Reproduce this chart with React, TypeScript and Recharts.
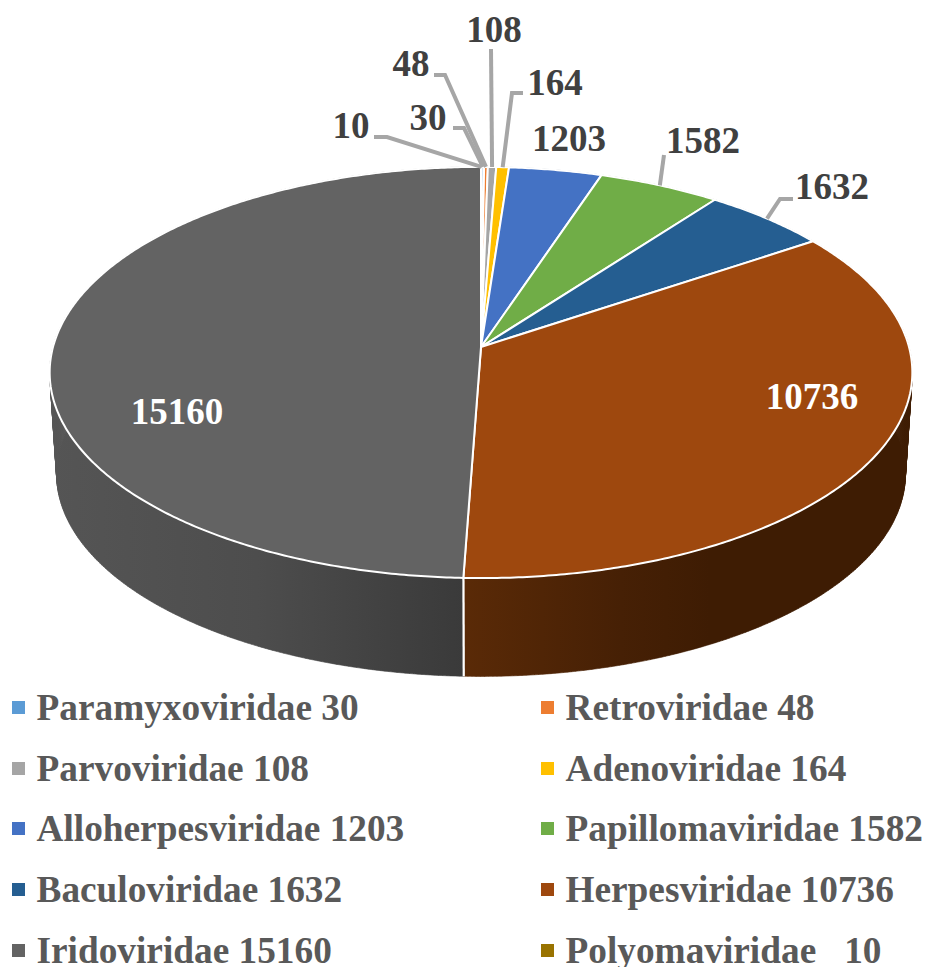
import { Legend, Pie, PieChart } from 'recharts';

const families = [
  'Polyomaviridae',
  'Paramyxoviridae',
  'Retroviridae',
  'Parvoviridae',
  'Adenoviridae',
  'Alloherpesviridae',
  'Papillomaviridae',
  'Baculoviridae',
  'Herpesviridae',
  'Iridoviridae',
];
const counts = [10, 30, 48, 108, 164, 1203, 1582, 1632, 10736, 15160];
const topColors = [
  '#997300',
  '#5b9bd5',
  '#ed7d31',
  '#a5a5a5',
  '#ffc000',
  '#4472c4',
  '#70ad47',
  '#255e91',
  '#9e480e',
  '#636363',
];
const wallColors = [
  '#4d3900',
  '#2e4e6b',
  '#773f19',
  '#535353',
  '#806000',
  '#223962',
  '#385724',
  '#132f49',
  'url(#herpesWall)',
  'url(#iridoWall)',
];
const legendOrder = [
  'Paramyxoviridae',
  'Retroviridae',
  'Parvoviridae',
  'Adenoviridae',
  'Alloherpesviridae',
  'Papillomaviridae',
  'Baculoviridae',
  'Herpesviridae',
  'Iridoviridae',
  'Polyomaviridae',
];

// label centre and the elbow of its leader line, same order as families
const labelSpots: { x: number; y: number; line?: number[][]; color?: string }[] = [
  { x: 351, y: 125, line: [[374, 137], [387, 137]] },
  { x: 428, y: 117, line: [[453, 128], [464, 128]] },
  { x: 411, y: 63, line: [[434, 75], [445, 75]] },
  { x: 494, y: 29, line: [[491, 49]] },
  { x: 555, y: 82, line: [[523, 93], [512, 93]] },
  { x: 569, y: 138 },
  { x: 703, y: 140, line: [[664, 155]] },
  { x: 832, y: 186, line: [[793, 199], [780, 199]] },
  { x: 812, y: 396, color: '#ffffff' },
  { x: 177, y: 411, color: '#ffffff' },
];

const pieData = families.map((name, i) => ({
  name,
  value: counts[i],
  fill: topColors[i],
}));
const wallData = families.map((name, i) => ({
  name,
  value: counts[i],
  fill: wallColors[i],
}));

const FONT = '"Liberation Serif", serif';
const RAD = Math.PI / 180;

// perspective of the tilted disc
const TILT = 0.124;
const FLAT = 0.473;
const DROP = 102;
const SHRINK = 0.984;

const rimPoint = (
  cx: number,
  cy: number,
  r: number,
  angle: number,
  lower = false,
) => {
  const u = Math.cos(angle * RAD);
  const v = -Math.sin(angle * RAD);
  const w = 1 - TILT * v;
  const s = lower ? SHRINK : 1;
  return [
    cx + (s * r * u) / w,
    cy + (s * r * FLAT * v) / w + (lower ? DROP : 0),
  ];
};

const arcPoints = (
  cx: number,
  cy: number,
  r: number,
  from: number,
  to: number,
  lower = false,
) => {
  const steps = Math.max(2, Math.ceil(Math.abs(to - from) * 2));
  const pts: number[][] = [];
  for (let i = 0; i <= steps; i++) {
    pts.push(rimPoint(cx, cy, r, from + ((to - from) * i) / steps, lower));
  }
  return pts;
};

const toPath = (pts: number[][]) =>
  pts.map((p, i) => `${i ? 'L' : 'M'}${p[0].toFixed(2)},${p[1].toFixed(2)}`).join(' ') + ' Z';

const TopSlice = (props: any) => {
  const { cx, cy, outerRadius, startAngle, endAngle, fill } = props;
  const pts = [[cx, cy], ...arcPoints(cx, cy, outerRadius, startAngle, endAngle)];
  return <path d={toPath(pts)} fill={fill} stroke="#ffffff" strokeWidth={2} strokeLinejoin="round" />;
};

// the wall is a strip of quads, one outline would cross itself near the sides
const WallSlice = (props: any) => {
  const { cx, cy, outerRadius, startAngle, endAngle, fill } = props;
  const upper = arcPoints(cx, cy, outerRadius, startAngle, endAngle);
  const lower = arcPoints(cx, cy, outerRadius, startAngle, endAngle, true);
  const quads = upper
    .slice(1)
    .map((p, i) => toPath([upper[i], p, lower[i + 1], lower[i]]))
    .join(' ');
  const seam = (i: number) => (
    <line
      x1={upper[i][0]}
      y1={upper[i][1]}
      x2={lower[i][0]}
      y2={lower[i][1]}
      stroke="#ffffff"
      strokeWidth={2}
    />
  );
  return (
    <g>
      <path d={quads} fill={fill} stroke={fill} strokeWidth={0.6} />
      {seam(0)}
      {seam(upper.length - 1)}
    </g>
  );
};

const renderLabel = (props: any) => {
  const { cx, cy, outerRadius, midAngle, index, value } = props;
  const spot = labelSpots[index];
  const tip = rimPoint(cx, cy, outerRadius, midAngle);
  return (
    <g key={`label-${index}`}>
      {spot.line && (
        <polyline
          points={[...spot.line, tip].map((p) => p.join(',')).join(' ')}
          fill="none"
          stroke="#a6a6a6"
          strokeWidth={4}
        />
      )}
      <text
        x={spot.x}
        y={spot.y}
        textAnchor="middle"
        dominantBaseline="central"
        fontFamily={FONT}
        fontWeight={700}
        fontSize={37}
        fill={spot.color ?? '#404040'}
      >
        {value}
      </text>
    </g>
  );
};

const LegendGrid = () => (
  <div
    style={{
      display: 'grid',
      gridTemplateColumns: '529px 396px',
      gridAutoRows: '60.75px',
      fontFamily: FONT,
      fontWeight: 700,
      fontSize: 37.3,
      color: '#595959',
    }}
  >
    {legendOrder.map((name) => {
      const i = families.indexOf(name);
      return (
        <div
          key={name}
          style={{ display: 'flex', alignItems: 'center', paddingLeft: 12, whiteSpace: 'pre' }}
        >
          <span style={{ width: 13, height: 13, background: topColors[i], marginRight: 11.5, flexShrink: 0 }} />
          <span>
            {name}
            {name === 'Polyomaviridae' ? '   ' : ' '}
            {counts[i]}
          </span>
        </div>
      );
    })}
  </div>
);

export default function App() {
  return (
    <div style={{ position: 'absolute', left: 0, top: 0, width: 925, height: 967, overflow: 'hidden' }}>
      <PieChart width={925} height={967} margin={{ top: 0, right: 0, bottom: 0, left: 0 }}>
        <defs>
          <linearGradient id="iridoWall" gradientUnits="userSpaceOnUse" x1="50" y1="0" x2="464" y2="0">
            <stop offset="0%" stopColor="#555555" />
            <stop offset="50%" stopColor="#4d4d4d" />
            <stop offset="100%" stopColor="#3a3a3a" />
          </linearGradient>
          <linearGradient id="herpesWall" gradientUnits="userSpaceOnUse" x1="464" y1="0" x2="912" y2="0">
            <stop offset="0%" stopColor="#5a2a07" />
            <stop offset="35%" stopColor="#462005" />
            <stop offset="55%" stopColor="#3e1c03" />
            <stop offset="100%" stopColor="#3e1c03" />
          </linearGradient>
        </defs>
        <Pie
          data={wallData}
          dataKey="value"
          nameKey="name"
          cx={481}
          cy={347}
          innerRadius={0}
          outerRadius={428}
          startAngle={90}
          endAngle={-270}
          shape={WallSlice}
          legendType="none"
          isAnimationActive={false}
        />
        <Pie
          data={pieData}
          dataKey="value"
          nameKey="name"
          cx={481}
          cy={347}
          innerRadius={0}
          outerRadius={428}
          startAngle={90}
          endAngle={-270}
          shape={TopSlice}
          label={renderLabel}
          labelLine={false}
          isAnimationActive={false}
        />
        <Legend
          content={<LegendGrid />}
          wrapperStyle={{ position: 'absolute', left: 0, top: 677, bottom: 'auto', width: 925, height: 290 }}
        />
      </PieChart>
    </div>
  );
}
